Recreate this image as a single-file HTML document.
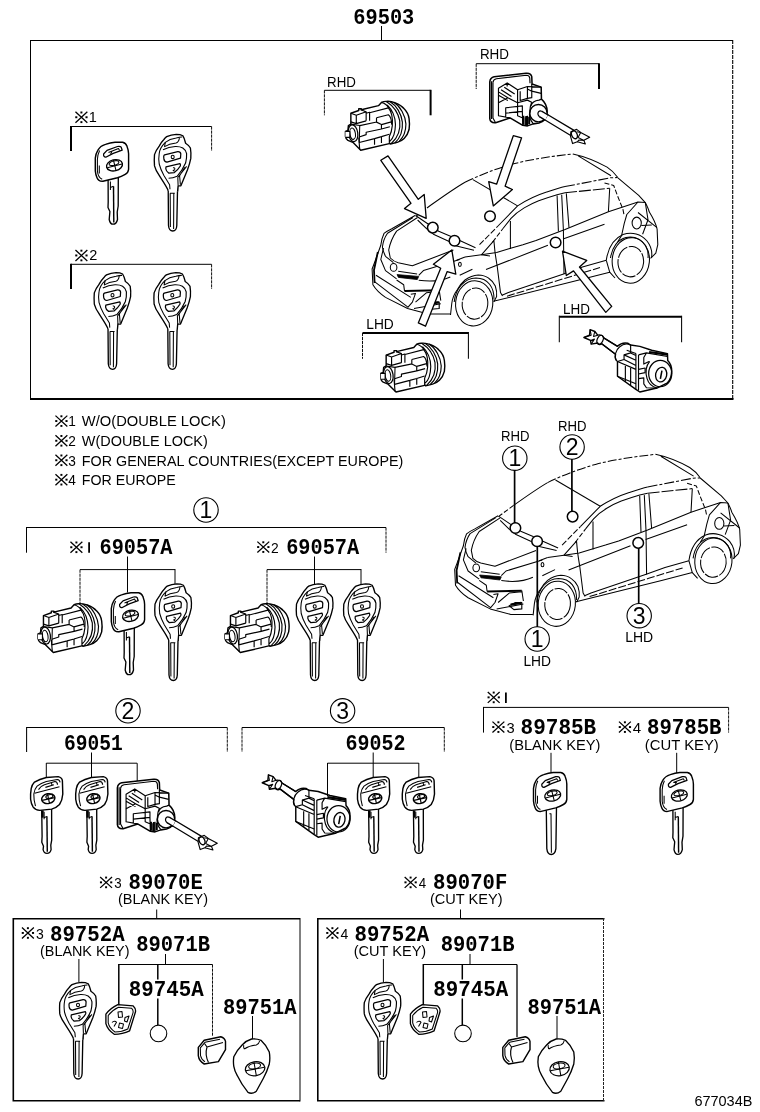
<!DOCTYPE html>
<html><head><meta charset="utf-8"><title>69503</title>
<style>
html,body{margin:0;padding:0;background:#fff}
svg{display:block}
svg path,svg ellipse,svg circle{vector-effect:non-scaling-stroke}
svg{fill:none;stroke:#000;stroke-width:1.05;stroke-linecap:butt;stroke-linejoin:round}
.w{fill:#fff}
.t{stroke-width:.95;stroke-dasharray:3.2 .8}
.f{stroke-width:1.05}
.k{fill:#000;stroke:none}
text{font-family:"Liberation Sans",sans-serif;fill:#000;stroke:none}
svg{will-change:transform;opacity:.9999}
.pn{font-family:"Liberation Mono",monospace;font-weight:bold}
</style></head><body>
<svg width="760" height="1112" viewBox="0 0 760 1112">
<defs>

<symbol id="ref" viewBox="0 0 12 12" overflow="visible" preserveAspectRatio="none">
<path d="M.6 .6L11.4 11.4M11.4 .6L.6 11.4" stroke-width="1.3"/>
<rect x="5.1" y=".3" width="1.8" height="1.9" class="k"/><rect x="5.1" y="9.8" width="1.8" height="1.9" class="k"/>
<rect x=".4" y="5" width="1.9" height="1.9" class="k"/><rect x="9.7" y="5" width="1.9" height="1.9" class="k"/>
</symbol>
<g id="keyA">
<path class="w" d="M13.1 37.5L13.2 60L13 65.5L14.9 69.5L14.2 77.5C14.8 80.5 16.3 82.2 18 82.2C20 82.2 21.8 80.5 22.5 77.5L22.2 70L23.2 64L23.3 34.5Z" stroke-width="1.34"/>
<path d="M15.4 39.5V48M15.4 45.4L18.4 44.2" class="f"/>
<path d="M18.5 44.2L18.8 80.5" stroke-width="1.43"/>

<path class="w" d="M10.5 2.4C14 1.2 17 .6 20 .3L27.6 .3C30 .8 31.3 2.2 31.9 4.1C33 7 33.6 9.5 33.6 11.8L33.6 27.2C33.4 29.7 32.2 31.3 30.2 32.3C27.5 33.8 25 34.9 22.5 35.7L7.9 39.2C5 39.4 3 38.2 2 35.7C1 33.5 .5 31 .3 28.9L.3 16.1C.6 13 1.5 10.5 2.8 8.4C4.5 5.3 7 3.4 10.5 2.4Z" stroke-width="1.43"/>
<path d="M4.6 8.6C3.2 11.5 2.5 14.5 2.4 17.5L2.4 29C2.8 33 4.2 36 7.2 37.3" class="f"/>
<path d="M4.3 23.5V31.5" class="f"/>
<path d="M8.6 12L12 8.4L22.5 4.5C24.5 4.2 25.6 4.4 26.2 5.2L27.2 8.2L18.2 11.4L10.8 15.2C9.3 15.3 8.4 14.2 8.6 12Z" stroke-width="1.24"/>
<path d="M13.5 10.4L23.5 6.6L24.6 8.4M15.6 12.2L16.8 9.6" class="f"/>
<g transform="translate(19.5 23.3) rotate(-14)">
<ellipse rx="8.1" ry="5.5" stroke-width="1.34"/>
<path d="M-7.6 .6H7.6M.2 -5.2V5.2" class="f"/>
<ellipse cx="0" cy="-2.2" rx="5" ry="2.2" class="f"/>
</g>
</g>
<g id="keyAb">
<path class="w" d="M13.1 37.5L13.6 76.5C14 80 16 82.3 18 82.3C20.3 82.3 22.2 80 22.7 76.5L23.3 34.5Z" stroke-width="1.34"/>
<path d="M16.2 41.5L17.8 41.5L18.2 80.5" class="f"/>

<path class="w" d="M10.5 2.4C14 1.2 17 .6 20 .3L27.6 .3C30 .8 31.3 2.2 31.9 4.1C33 7 33.6 9.5 33.6 11.8L33.6 27.2C33.4 29.7 32.2 31.3 30.2 32.3C27.5 33.8 25 34.9 22.5 35.7L7.9 39.2C5 39.4 3 38.2 2 35.7C1 33.5 .5 31 .3 28.9L.3 16.1C.6 13 1.5 10.5 2.8 8.4C4.5 5.3 7 3.4 10.5 2.4Z" stroke-width="1.43"/>
<path d="M4.6 8.6C3.2 11.5 2.5 14.5 2.4 17.5L2.4 29C2.8 33 4.2 36 7.2 37.3" class="f"/>
<path d="M4.3 23.5V31.5" class="f"/>
<path d="M8.6 12L12 8.4L22.5 4.5C24.5 4.2 25.6 4.4 26.2 5.2L27.2 8.2L18.2 11.4L10.8 15.2C9.3 15.3 8.4 14.2 8.6 12Z" stroke-width="1.24"/>
<path d="M13.5 10.4L23.5 6.6L24.6 8.4M15.6 12.2L16.8 9.6" class="f"/>
<g transform="translate(19.5 23.3) rotate(-14)">
<ellipse rx="8.1" ry="5.5" stroke-width="1.34"/>
<path d="M-7.6 .6H7.6M.2 -5.2V5.2" class="f"/>
<ellipse cx="0" cy="-2.2" rx="5" ry="2.2" class="f"/>
</g>
</g>
<g id="keyB">
<path class="w" d="M14.2 54L14.5 91.5C14.8 95 16.8 97 18.8 97C21 97 22.6 95 22.8 91.5L23.6 52Z" stroke-width="1.34"/>
<path d="M16 59.3H20.8M19.8 59.3L19.6 95M16.2 59.3L16.4 93" class="f"/>
<path class="w" d="M14.2 56.5C11.5 50.5 8 46 5.2 41.4C3 38.3 1.3 35 .5 31.9C.2 28 .2 24 .5 20.6C1.5 17.5 3.2 14.7 5.2 12.1C6.5 9.7 8 7.4 9.9 5.5C10.8 4.3 11.7 3.3 12.7 2.6C16 1 19 .4 22.2 .3C25 .3 27.3 .8 28.8 1.7C30.3 4 31 7 31.6 9.2C33.5 10.4 35.4 12 36.4 14C37 17.5 37.1 21 36.8 24.4C36 28.5 34.8 32.3 33.5 35.7L26.9 51.8L24.1 51.8L23.6 57.5" stroke-width="1.34"/>
<path d="M11.3 8.3C14.5 5.8 18 4.6 22.2 4C24.5 3.4 26.5 3 28.2 3.1M11.3 8.3C8 11.5 5.6 15.5 5.2 19.6C4.6 23 4.7 26.5 5.2 30C6.2 34 8 38 9.9 41.4L15.6 50.8L16 55.3" class="f"/>
<path d="M11.5 8.2C11 9.6 10.6 11 10.6 12.6C14 10.5 18 9.5 22 9C24.5 8 25.3 5.5 25.4 3.4" class="f"/>
<path d="M9 15.8C13 13.8 17 12.8 21.2 12.5C24 12.4 26.8 12.8 28.8 14C31 15.5 32.3 17.4 32.6 19.6C32.8 23 32.4 26.2 31.6 29.1C29.5 34 26.5 38.5 23.1 42.3C20.5 43.5 17.5 44.2 14.6 44.2" stroke-width="1.15"/>
<path d="M10.6 20.8L23.8 17.6C25.6 17.5 26.6 18.3 26.8 19.8L26.5 24.2L13 28.2C11.2 28 10.2 26.8 9.9 25.2L9.7 22.6C9.8 21.7 10.1 21.1 10.6 20.8Z" stroke-width="1.24"/>
<ellipse cx="18.7" cy="22.9" rx="1.5" ry="1.7" class="f"/>
<path d="M12 32.8L26 29.6C26.6 30.4 26.6 31.2 26.3 32C24.8 34.5 22.7 36.8 20.3 38.6L14.8 39.1C13 38 12 36.6 11.8 34.8Z" stroke-width="1.24"/>
<path d="M19 33.8C20.3 33.4 21 34.2 20.8 35.2C20.5 36.2 19.6 36.6 18.8 36.2M19.6 36.3L20.2 37.5" class="f"/>
<path d="M32.6 32.4L23.8 43.5L24.1 51.6M30.8 33.2L25.6 41.8L26.4 50.8" class="f"/>
</g>
<g id="cyl" transform="scale(0.09868)">
<path class="w" d="M110 185L190 157L190 140L215 140L215 150L390 108L420 75C440 66 455 64 470 65C500 62 530 68 560 80C600 95 630 115 650 140C680 170 695 205 700 240C706 280 706 315 700 350C690 390 672 420 650 440C630 460 605 472 580 480L510 497L510 490L210 560L130 480L80 460C65 450 57 437 55 420L55 370L80 360L85 310L110 295Z" stroke-width="1.43"/>
<path d="M110 185L165 205L265 170L210 150M165 205L165 290M110 272L165 290L265 262M265 170L265 262M265 185L300 175L300 262M300 180L490 130" stroke-width="1.15"/>
<path d="M470 65C540 110 590 180 605 260C615 340 600 420 520 492M505 66C572 106 622 190 632 275C638 360 618 430 555 486M545 74C612 116 662 205 668 295C668 370 648 425 600 470M420 75C460 85 480 105 490 130C525 170 535 250 530 310C525 370 510 400 500 420L500 492M478 100C530 150 560 220 562 300C560 380 540 440 505 470" stroke-width="1.15"/>
<path d="M370 230L490 200C512 215 522 250 524 300M370 230L370 275L420 300L420 345L265 378L265 402L195 425M200 310L372 274M420 300L520 272M420 345L505 322" stroke-width="1.15"/>
<path d="M195 482L350 442L350 505M350 442L420 422L420 486M420 422L500 397M190 430L200 555" stroke-width="1.15"/>
<ellipse cx="132" cy="388" rx="48" ry="86" stroke-width="1.24" transform="rotate(-8 132 388)"/>
<ellipse cx="128" cy="392" rx="28" ry="58" stroke-width="1.06" transform="rotate(-8 128 392)"/>
<path d="M55 370H100V430H55" stroke-width="1.15" class="w"/>
<path d="M110 295L200 310L195 482" stroke-width="1.06"/>
</g>
<g id="lockR" transform="scale(0.14474)">
<path class="w" d="M396 296L624 430L604 470L380 336Z" stroke="none"/>
<path d="M398 297L622 431M382 335L602 468" stroke-width="1.24"/>
<path class="w" d="M600 440L640 424L668 445L730 478L690 500L700 525L645 510L612 522L598 472Z" stroke-width="1.15"/>
<ellipse cx="625" cy="462" rx="19" ry="28" stroke-width="1.34" transform="rotate(-25 625 462)"/>
<path d="M640 440L668 445L650 480L690 500L655 498L645 510" stroke-width="1.06"/>
<path class="w" d="M40 95C42 75 52 64 70 60L290 36C312 34 326 42 330 60L332 110L395 132L397 215C420 235 436 262 436 300C436 340 415 372 380 380L340 386L300 400L268 396L180 345L80 378C55 380 42 368 40 350Z" stroke-width="1.53"/>
<path d="M62 98C64 84 72 76 86 74L292 50C306 50 314 56 316 68L318 105M62 98L62 345L80 378M52 92L52 352" stroke-width="1.15"/>
<path d="M100 140L160 103L232 150L232 240L165 205L100 240ZM160 103L160 128M118 150L190 197M140 133L212 180M100 188L165 225M100 165L165 205" stroke-width="1.15"/>
<path d="M232 150L300 128L395 132M250 160L250 225L300 210L300 145M300 145L330 160L330 205L300 210M330 110L330 160M232 240L300 222L332 238M300 128L300 145M330 160L395 175" stroke-width="1.15"/>
<path d="M150 275L265 262L265 300L150 312ZM100 240L100 330L180 345M150 312L150 338M232 240L232 262M265 300L268 396M300 330L300 400M285 340L285 395M232 262L232 330L268 345" stroke-width="1.15"/>
<path d="M272 330L272 392M292 332L292 398M312 336L312 388" stroke-width="2"/>
<circle cx="376" cy="312" r="60" stroke-width="1.43" class="w"/>
<path d="M325 262C330 240 350 225 380 222L397 215M318 300C310 320 312 350 340 384M332 238C322 250 318 275 318 300" stroke-width="1.15"/>
<ellipse cx="390" cy="318" rx="17" ry="21" stroke-width="1.24" class="w" transform="rotate(-20 390 318)"/>
<path class="w" d="M398 299L440 324L424 360L384 336Z" stroke="none"/>
<path d="M398 298L445 326M383 336L425 362" stroke-width="1.24"/>
</g>
<g id="lockL" transform="scale(0.13158)">
<path class="w" d="M45 118L88 100L92 58L128 72L150 100C170 95 190 102 195 120L300 185C320 165 350 155 380 162L400 175L470 185L560 215L680 240L682 292C700 310 712 340 712 370C712 410 700 440 680 462L600 502L470 532L440 512L300 412L300 300C285 290 280 270 285 245L180 165C170 175 155 175 150 160L100 168L95 140Z" stroke-width="1.43"/>
<ellipse cx="168" cy="135" rx="22" ry="36" stroke-width="1.24" transform="rotate(25 168 135)"/>
<path d="M92 58L100 100L45 118M128 72L118 110L150 100M95 140L125 130L100 168" stroke-width="1.06"/>
<path d="M195 120L300 185M180 165L285 245" stroke-width="1.24"/>
<path d="M290 290C275 260 285 215 315 190C340 168 370 160 400 175M300 300L350 285L350 250L400 235L400 175" stroke-width="1.15"/>
<path d="M440 240L440 512M460 250L460 520M350 285L440 330M350 250L440 290M400 235L440 255M370 215L440 240M300 300L440 360" stroke-width="1.15"/>
<path d="M360 335L360 455M400 350L400 480M300 412L440 470" stroke-width="1.15"/>
<path d="M460 250L520 235L680 262M520 235L500 270L500 320L540 300M460 360L510 350L510 385L460 395M460 430L500 425L500 470L520 500L600 502" stroke-width="1.15"/>
<path d="M540 228L680 248" stroke-width="2.2"/>
<ellipse cx="625" cy="392" rx="88" ry="100" stroke-width="1.24"/>
<path d="M545 300C520 330 510 380 525 430C535 465 560 490 600 502" stroke-width="1.15"/>
<ellipse cx="632" cy="400" rx="42" ry="56" stroke-width="1.34" transform="rotate(12 632 400)"/>
<path d="M638 370L626 432" stroke-width="1.53"/>
</g>
<g id="car">
<!-- roof -->
<path d="M415.7 216.3L431 205" stroke-dasharray="5 2"/><path d="M431 205C445 195 455 188 465 182.2"/>
<path d="M465 182.2C480 175 495 169 513.7 163.8C530 159.5 550 156.5 572.9 153.9" stroke-dasharray="9 2 3 2"/>
<path d="M572.9 153.9C585 156.5 597 161.5 607.1 167.1C611.5 170 615 173.5 617.6 177.3M578.2 155.9L611 175.7"/>
<path d="M472.9 179.6L517.6 205.9"/>
<path d="M479.5 244.7L498 226" stroke-dasharray="6 2"/>
<path d="M498 226L517.6 205.9C526 200.5 536 195.5 546.6 192.1C553 190 559 188 565 186.6"/>
<path d="M565 186.6L610.4 177.8L617.6 177.5" stroke-dasharray="10 2 3 2"/>
<path d="M492.6 242.1L503 228.5" stroke-dasharray="5 2"/>
<path d="M503 228.5L511 218.4C515 214 519 211 524.2 207.9C529 205 534 202.5 538.7 200.7C545 198.5 551 196.5 557.1 194.7L565 192.8"/>
<path d="M565 192.8L609.7 188.2" stroke-dasharray="12 2"/>
<!-- windows / pillars -->
<path d="M510.4 221L510.4 249M557.1 195.4L558.4 231.6M561.7 194.7L563.4 230.3L564 274M566.3 193.4L569 227.6M609.7 188.2L608.4 211.8"/>
<!-- belt line -->
<path d="M465 257L481.4 254.8L496.6 252.5L509.7 248.6L522.9 244.7L536 240.5L565 229.6L608.4 211.8L638 202L645.3 202.6"/>
<path d="M486 269.6L547.9 245.3M563 239L604.5 224.3"/>
<path d="M493.9 240.7L481.4 254.8L490 256M493.9 240.7L495 252C495.8 258 496.5 262 497.2 266.3L500.5 292.6L502.5 296"/>
<!-- sill -->
<path d="M502 295.3L508.4 292.6L563.6 273.9L582.4 267.1L606.3 260.3M493.4 301.3L579 280L609.7 272.2L615 278"/>
<path d="M507 296.2L565.3 278.2L600 267.5" stroke-dasharray="8 2"/>
<path d="M606.3 260.3L609.7 272.2"/>
<!-- hood / cowl -->
<path d="M415.5 215.3L391.8 228.7C388.5 230.3 386 231.8 384 233.4C382.2 237 381.3 241 380.8 245.3L374.5 262.7L372.1 269L372.9 284.8C376 290 380.5 294 385.5 297.4L407.6 308.5L428.2 314L450.3 314"/>
<path d="M413 217.5L387.5 233.2C384.5 237.5 383 242 382.4 247C382.8 250.5 384 253.5 385.5 256.3L393.4 262.7"/>
<path d="M417.5 217.5L396.6 231.1C392.5 237 390 243 388.7 250L390.3 258C392.5 260.3 395 261.8 398.2 262.7L412.4 265.8L453.4 250"/>
<path d="M383.5 248L380.8 259.5L385.5 270.6L396.6 278.8"/>
<path d="M377.8 252L375.5 263L374 270L374.6 283" stroke-width="1.8"/>
<path d="M416.3 216L427 223.2L438.7 231.2L450.5 236.2L459.7 240.6L475.5 247.7M417.6 220L426.8 228.9L433.4 234.2L449.2 241.4L453.4 245.3L474 250.2"/>
<ellipse cx="393.6" cy="267.4" rx="3.3" ry="3.9"/>
<path d="M398.2 271.3L417.1 273.9M418.7 275.3L423.4 270.6L459.7 259.5"/>
<path d="M397 274.6L418.7 276.4L417.3 279.6L398.4 277.4Z" fill="#000" stroke-width=".8"/>
<path d="M418.7 280.2C430 281.8 442 280.8 450.3 276.9"/>
<path d="M404.5 291.1L439.2 290.3" stroke-width="2"/>
<path d="M439.2 290.3L440.8 300.6M396.6 280L403.7 284.8L404.5 291.1M410.8 294.2L415.5 293.4L412.4 302.1L407.6 307.7M376 275.3L410.8 297.4M374.5 281.6L407.6 306.9M415.5 302.1L426.6 292.7L439 291.3M414 308.5L440.8 303.7"/>
<path d="M426.6 305.3L432.9 302.1L439.2 302.1L439.2 308.5L431.3 309.2Z" stroke-width="1.14"/>
<path d="M428 304.2L438.8 302.4" stroke-width="2.2"/>
<path d="M456.6 260.3L465 257"/>
<ellipse cx="459.9" cy="264.3" rx="1.4" ry="2.1"/>
<path d="M459.7 275.3L472.4 269.2"/>
<!-- front wheel -->
<path d="M450.5 315L451.8 303.2C452.5 298 454.5 293.5 457.1 290C459.5 285.5 462 282.5 465 280C469 277 473.5 275.2 478.2 274.9C482.5 275 486 276.2 488.7 278.2C491.8 280.3 494 283 495.3 286C496.5 289.5 497 293 496.6 296.6L494 301.8"/>
<path d="M454.2 302C455.5 288.5 464 278.4 476 278C488 278 494.3 287.5 494 299.5"/>
<ellipse cx="474.2" cy="303.4" rx="18.6" ry="22.6" transform="rotate(6 474.2 303.4)"/>
<ellipse cx="475" cy="303.6" rx="12.8" ry="15.6" transform="rotate(6 475 303.6)" stroke-dasharray="14 1.5"/>
<!-- rear -->
<path d="M617.6 177.6L638.7 195.4L645.3 202.6C647 206 648.5 209 649.2 211.8C653 218 656 224 657.1 229L657.8 244.7L655.8 253.2L650.5 258.4"/>
<path d="M604.5 182.9L613.7 185.5L617.6 196L622.9 209.2L624.2 215.8" stroke-dasharray="5 2"/>
<path d="M638 202L626.8 214.5L624.2 223.7L621.6 235.5L617.6 242.1M638 212.5L657 227.6M645.3 202.6L648 219.7L642.6 234.2"/>
<ellipse cx="636.7" cy="223" rx="4.6" ry="5.9"/>
<path d="M641.3 225.6L651.8 225"/>
<!-- rear wheel -->
<path d="M606.3 260.3C608 248 614 238.5 623 234.5C632 231.5 641 234 647 241C651 246 652.5 252 651.5 258"/>
<path d="M610.5 258C612 247 618 239.5 626 237.5C634 236 641 239 645.5 245.5C648 250 648.5 254 648 258"/>
<ellipse cx="630.8" cy="260.4" rx="18.6" ry="22.8" transform="rotate(6 630.8 260.4)"/>
<ellipse cx="630.8" cy="261.7" rx="12.8" ry="15.2" transform="rotate(6 630.8 261.7)" stroke-dasharray="14 1.5"/>
</g>
<g id="arrows" stroke-width="1.3">
<path class="w" d="M380.8 160.3L388 155.9L418.3 199.3L424.2 194.5L426.2 218.4L404.5 208.6L411 203.3Z"/>
<path class="w" d="M513.3 135.7L496.6 184.2L488.7 181.6L493.3 205.9L512.4 189.5L505.1 186.2L521.6 137.8Z"/>
<path class="w" d="M451.8 249.9L433.4 264.3L440.7 268.3L418.3 322.9L425.5 326.2L447.2 271.6L455.8 274.2Z"/>
<path class="w" d="M562.5 251.2L586.7 260.4L579.5 267L611.7 306.4L605.8 312.4L573.5 270.9L566.3 275.5Z"/>
</g>
<g id="pad">
<path class="w" d="M105.9 1014.2C109 1010 113 1007 117.8 1004.7L133.2 1005.9C135 1007.5 135.8 1009.5 135.5 1011.8L129.6 1030.8C125 1033 120 1034.2 114.2 1034.3C110 1031.5 107 1028 105.9 1023.7Z" stroke-width="1.34"/>
<path d="M108.2 1015.5C111 1011.8 114.5 1009 118.5 1007.2L131.5 1008.2C133 1009.5 133.4 1011 133 1012.8L127.8 1029C124 1031 119.5 1032 115 1032C111.5 1029.5 109 1026.5 108.2 1022.8Z" class="f"/>
<path d="M118 1012L122 1011.5L122.5 1017L118.5 1017.5ZM125 1017.5L129 1016L127 1022L124.5 1021ZM112 1022.5C113.5 1021 115.5 1020.8 116.5 1022.2L114 1026.5M119.5 1023L123.5 1024L122.5 1028.5L118.5 1027.5Z" class="f"/>
</g>
<g id="cover">
<path class="w" d="M198.3 1047.4L204.2 1040.3L220.8 1036.7C223.5 1037.5 225 1039 225.5 1041.4L225.5 1049.7L218.4 1061.6L204.2 1064C200.5 1062 198.8 1059.5 198.3 1055.7Z" stroke-width="1.43"/>
<path d="M200.3 1047.8L205 1042.3L220 1039.2M200.3 1047.8L200.5 1055.5C201.2 1058.5 202.6 1060.5 205 1061.8" class="f"/>
<path d="M204.5 1043.5L207 1047L223 1042.5M207 1047C205.5 1052 205.8 1057 208.5 1062.5" stroke-width="1.15"/>
</g>
<g id="back">
<path class="w" d="M233.8 1056.8C236 1052 238.8 1048.3 242.1 1045C245 1042 248 1040 251.6 1039C255 1038.6 258 1039 261 1040.3C264.5 1043.5 267.3 1047.5 269.3 1052.1C270 1056 270 1060 269.3 1064C267.8 1069 265.8 1073.8 263.4 1078.2L256.3 1091.2C253.5 1093.5 250.5 1093.8 248 1092.4C244 1087.5 240.3 1082 237.4 1075.8C235.5 1072.5 234.3 1069.4 233.8 1066.3C233.3 1063 233.3 1060 233.8 1056.8Z" stroke-width="1.34"/>
<path d="M244.3 1049C247.5 1046.8 251.5 1045.5 256.3 1045C258 1044.4 259.2 1043 259.6 1041M244.3 1049C243.6 1047.6 243.4 1046.4 243.8 1045.2" class="f"/>
<g transform="translate(255.1 1068.7) rotate(-10)"><ellipse rx="9.8" ry="7" stroke-width="1.24"/><path d="M-9.5 .3H9.5M0 -6.8V6.8" class="f"/><ellipse cx="0" cy="-2.8" rx="6" ry="2.8" class="f"/></g>
</g>
<g id="keyC">
<path class="w" d="M11.8 32L12.2 60L11.9 66L13.6 70L13.2 73.5C13.8 76 15.3 77.2 17 77.2C19 77.2 20.6 76 21.2 73.5L20.9 69L21.8 64L21.7 30Z" stroke-width="1.34"/>
<path d="M14.2 35.5V43M14.2 41.5L16.9 40.2" class="f"/>
<path d="M17 40L17.4 75.5" stroke-width="1.43"/>
<path d="M12.6 34.2V41.5" stroke-width="2.4"/>
<path class="w" d="M4.6 5.9C8 3.8 12 2.3 16.4 1.3L28.3 .4C31 1 32.3 2.5 32.5 4.6L32.9 17.8C32.6 22 31.5 25.5 29.6 28.3C27.5 30.6 25 32 21.7 32.9L9.9 34.2C7 34 4.8 32.9 3.3 30.9C1.8 28.5 1 26 .7 23C.5 19.5 .7 16 1.3 12.5C1.9 9.6 3 7.5 4.6 5.9Z" stroke-width="1.43"/>
<path d="M5.6 30C4.4 26 3.8 22 3.9 17.8C4.3 14.5 5.4 11.9 7.2 9.9C9.8 7.8 12.9 6.3 16.4 5.3L27.4 3.3C29.3 3.5 30 4.6 30.2 6.2" class="f"/>
<path d="M8.6 13.4C10 11 12 9.5 14.5 8.6L25 5.3C26.8 5.5 27.6 6.7 27.6 8.6M4.6 17.1L29.6 10.5M15.5 11.2L24 8.5M21.5 7L22.3 9.2" stroke-width="1.15"/>
<g transform="translate(18.4 22.4) rotate(-12)"><ellipse rx="6.7" ry="4.9" stroke-width="1.43"/><path d="M-6.4 .4H6.4M.2 -4.6V4.6" stroke-width="1.15"/><ellipse cx="1.5" cy="-1.8" rx="3.6" ry="1.8" class="f"/></g>
</g>

</defs>
<text class="pn" x="353.3" y="23.6" font-size="22" textLength="61" lengthAdjust="spacingAndGlyphs">69503</text>
<path d="M381.5 26L381.5 40" stroke-width="1.0"/>
<path d="M30 40.5H733M30.5 40V400" stroke-width="1"/>
<path d="M30 399H733.5" stroke-width="2"/>
<path d="M732.7 40V400" stroke-width="1.1" stroke-dasharray="4 1"/>
<use href="#ref" x="74.8" y="111.2" width="13.2" height="12.2"/>
<text x="88.8" y="122" font-size="14.5">1</text>
<path d="M71 126.5H211.6" stroke-width="1.0"/>
<path d="M71 126.0V151" stroke-width="2"/>
<path d="M211.6 126.5L211.6 151" class="t"/>
<use href="#keyA" x="95" y="142"/>
<use href="#keyB" x="154" y="134"/>
<use href="#ref" x="74.8" y="249.4" width="13.2" height="12.2"/>
<text x="89.3" y="260.3" font-size="14.5">2</text>
<path d="M71 264.3H211.6" stroke-width="1.0"/>
<path d="M71 263.8V289" stroke-width="2"/>
<path d="M211.6 264.3L211.6 289" class="t"/>
<use href="#keyB" x="93.8" y="272.3"/>
<use href="#keyB" x="153.6" y="272.3"/>
<text x="327.1" y="86.9" font-size="14.5" textLength="28.8" lengthAdjust="spacingAndGlyphs">RHD</text>
<path d="M324.4 90.3H430.6" stroke-width="1.0"/>
<path d="M324.4 90.3L324.4 115.3" class="t"/>
<path d="M430.6 89.8V115.3" stroke-width="2"/>
<text x="479.9" y="59.1" font-size="14.5" textLength="29.1" lengthAdjust="spacingAndGlyphs">RHD</text>
<path d="M476.2 63.7H599" stroke-width="1.0"/>
<path d="M476.2 63.7L476.2 89" class="t"/>
<path d="M599 63.2V89" stroke-width="2"/>
<text x="366.3" y="329.3" font-size="14.5" textLength="27.5" lengthAdjust="spacingAndGlyphs">LHD</text>
<path d="M362.5 333H468.4" stroke-width="2"/>
<path d="M362.5 333L362.5 358.8" class="t"/>
<path d="M468.4 332.0V358.8" stroke-width="1.05"/>
<text x="563.1" y="313.5" font-size="14.5" textLength="26.9" lengthAdjust="spacingAndGlyphs">LHD</text>
<path d="M559.3 316.7H681.6" stroke-width="2"/>
<path d="M559.3 315.7V342.3" stroke-width="1.05"/>
<path d="M681.6 315.7V342.3" stroke-width="1.05"/>
<use href="#cyl" x="340" y="95"/>
<use href="#lockR" x="484" y="68"/>
<use href="#cyl" x="375.3" y="336.8"/>
<use href="#lockL" x="578" y="322"/>
<use href="#car"/>
<use href="#arrows"/>
<circle class="w" cx="432.8" cy="227.6" r="5.3" stroke-width="1.5"/>
<circle class="w" cx="454.5" cy="240.8" r="5.3" stroke-width="1.5"/>
<circle class="w" cx="490" cy="216.2" r="5.3" stroke-width="1.5"/>
<circle class="w" cx="555.6" cy="242.5" r="5.3" stroke-width="1.5"/>
<use href="#car" x="82.6" y="300.4"/>
<circle class="w" cx="515.4" cy="528.0" r="5.3" stroke-width="1.5"/>
<circle class="w" cx="537.1" cy="541.2" r="5.3" stroke-width="1.5"/>
<circle class="w" cx="572.6" cy="516.5999999999999" r="5.3" stroke-width="1.5"/>
<circle class="w" cx="638.2" cy="542.9" r="5.3" stroke-width="1.5"/>
<text x="500.9" y="441.3" font-size="14.5" textLength="28.5" lengthAdjust="spacingAndGlyphs">RHD</text>
<circle cx="514.8" cy="458.2" r="12.2" stroke-width="1.1"/>
<text x="514.8" y="466.365" font-size="23" text-anchor="middle">1</text>
<path d="M514.6 470L514.6 523" stroke-width="1.7"/>
<text x="558.1" y="430.7" font-size="14.5" textLength="28.5" lengthAdjust="spacingAndGlyphs">RHD</text>
<circle cx="572.1" cy="447" r="12.2" stroke-width="1.1"/>
<text x="572.1" y="455.165" font-size="23" text-anchor="middle">2</text>
<path d="M571.9 459L571.9 511.5" stroke-width="1.7"/>
<path d="M537.3 546L537.3 627" stroke-width="1.7"/>
<circle cx="537.2" cy="639" r="12.2" stroke-width="1.1"/>
<text x="537.2" y="647.165" font-size="23" text-anchor="middle">1</text>
<text x="523.4" y="665.9" font-size="14.5" textLength="27.6" lengthAdjust="spacingAndGlyphs">LHD</text>
<path d="M638.7 548L638.7 603.6" stroke-width="1.7"/>
<circle cx="639.2" cy="615.7" r="12.2" stroke-width="1.1"/>
<text x="639.2" y="623.865" font-size="23" text-anchor="middle">3</text>
<text x="625.2" y="642.2" font-size="14.5" textLength="28.0" lengthAdjust="spacingAndGlyphs">LHD</text>
<use href="#ref" x="54.8" y="415" width="13.2" height="12.2"/>
<text x="68.3" y="426.4" font-size="15" textLength="7.6" lengthAdjust="spacingAndGlyphs">1</text>
<text x="81.8" y="426.4" font-size="15" textLength="144" lengthAdjust="spacingAndGlyphs">W/O(DOUBLE LOCK)</text>
<use href="#ref" x="54.8" y="434.7" width="13.2" height="12.2"/>
<text x="68.3" y="446.09999999999997" font-size="15" textLength="7.6" lengthAdjust="spacingAndGlyphs">2</text>
<text x="81.8" y="446.09999999999997" font-size="15" textLength="126" lengthAdjust="spacingAndGlyphs">W(DOUBLE LOCK)</text>
<use href="#ref" x="54.8" y="454.2" width="13.2" height="12.2"/>
<text x="68.3" y="465.59999999999997" font-size="15" textLength="7.6" lengthAdjust="spacingAndGlyphs">3</text>
<text x="81.8" y="465.59999999999997" font-size="15" textLength="321.5" lengthAdjust="spacingAndGlyphs">FOR GENERAL COUNTRIES(EXCEPT EUROPE)</text>
<use href="#ref" x="54.8" y="473.6" width="13.2" height="12.2"/>
<text x="68.3" y="485.0" font-size="15" textLength="7.6" lengthAdjust="spacingAndGlyphs">4</text>
<text x="81.8" y="485.0" font-size="15" textLength="94" lengthAdjust="spacingAndGlyphs">FOR EUROPE</text>
<circle cx="206" cy="510" r="12.2" stroke-width="1.1"/>
<text x="206" y="518.165" font-size="23" text-anchor="middle">1</text>
<path d="M26.5 527.5H386" stroke-width="1.0"/>
<path d="M26.5 527.0V552.7" stroke-width="1.05"/>
<path d="M386 527.5L386 552.7" class="t"/>
<use href="#ref" x="69.8" y="541.2" width="13.2" height="12.2"/>
<path d="M89.1 542.2L89.1 552.8" stroke-width="1.8"/>
<text class="pn" x="99.5" y="553.8" font-size="22" textLength="73" lengthAdjust="spacingAndGlyphs">69057A</text>
<use href="#ref" x="256.7" y="541" width="13.2" height="12.2"/>
<text x="271" y="552.6" font-size="14.5" textLength="7.7" lengthAdjust="spacingAndGlyphs">2</text>
<text class="pn" x="286.2" y="553.8" font-size="22" textLength="73" lengthAdjust="spacingAndGlyphs">69057A</text>
<path d="M127.5 556.5L127.5 592.5" stroke-width="1.0"/>
<path d="M80 569.6H175" stroke-width="1"/>
<path d="M80 569.6L80 605" class="t"/>
<path d="M175 569L175 584" stroke-width="1.0"/>
<path d="M314.5 556.5L314.5 584" stroke-width="1.0"/>
<path d="M267 569.6H361" stroke-width="1"/>
<path d="M267 569.6L267 605" class="t"/>
<path d="M361 569L361 584" stroke-width="1.0"/>
<use href="#keyA" x="111" y="592.5"/>
<use href="#keyB" x="154.5" y="583.5"/>
<use href="#keyB" x="296" y="583.5"/>
<use href="#keyB" x="343.3" y="583.5"/>
<use href="#cyl" x="32.6" y="597.3"/>
<use href="#cyl" x="219.6" y="597.3"/>
<use href="#lockR" x="111.6" y="774"/>
<use href="#lockL" x="256.3" y="767.2"/>
<circle cx="128" cy="710.8" r="12.2" stroke-width="1.1"/>
<text x="128" y="718.9649999999999" font-size="23" text-anchor="middle">2</text>
<path d="M26.6 727.5H227.3" stroke-width="1.0"/>
<path d="M26.6 727.0V752" stroke-width="1.05"/>
<path d="M227.3 727.5L227.3 752" class="t"/>
<text class="pn" x="64" y="749.8" font-size="22" textLength="58.7" lengthAdjust="spacingAndGlyphs">69051</text>
<path d="M91.5 752.5L91.5 777.2" stroke-width="1.0"/>
<path d="M46.3 763.2H137.1" stroke-width="1"/>
<path d="M46.3 763L46.3 777.3" stroke-width="1.0"/>
<path d="M137.2 763.2L137.2 781" stroke-width="1.0"/>
<use href="#keyC" x="29.9" y="776.2"/>
<use href="#keyC" x="75" y="776.2"/>
<circle cx="342.6" cy="710.8" r="12.2" stroke-width="1.1"/>
<text x="342.6" y="718.9649999999999" font-size="23" text-anchor="middle">3</text>
<path d="M242 727.5H444.3" stroke-width="1.0"/>
<path d="M242 727.5L242 752" class="t"/>
<path d="M444.3 727.5L444.3 752" class="t"/>
<text class="pn" x="345.6" y="749.8" font-size="22" textLength="60" lengthAdjust="spacingAndGlyphs">69052</text>
<path d="M373.2 752.5L373.2 777.3" stroke-width="1.0"/>
<path d="M327.5 763.2H418.8" stroke-width="1"/>
<path d="M327.5 763L327.5 796" stroke-width="1.0"/>
<path d="M418.8 763L418.8 777.3" stroke-width="1.0"/>
<use href="#keyC" x="356.8" y="776.2"/>
<use href="#keyC" x="401.6" y="776.2"/>
<use href="#ref" x="487.1" y="691.3" width="13.2" height="12.2"/>
<path d="M505.9 692.4L505.9 703" stroke-width="1.8"/>
<path d="M483.5 707.4H728.6" stroke-width="1.0"/>
<path d="M483.5 706.9V732.6" stroke-width="1.05"/>
<path d="M728.6 707.4L728.6 732.6" class="t"/>
<use href="#ref" x="491.8" y="721" width="13.2" height="12.2"/>
<text x="506.6" y="732.5" font-size="15.3" textLength="8.2" lengthAdjust="spacingAndGlyphs">3</text>
<text class="pn" x="520.6" y="734" font-size="22" textLength="75.6" lengthAdjust="spacingAndGlyphs">89785B</text>
<text x="509.3" y="749.6" font-size="14" textLength="91.2" lengthAdjust="spacingAndGlyphs">(BLANK KEY)</text>
<use href="#ref" x="618.3" y="721" width="13.2" height="12.2"/>
<text x="632.8" y="732.5" font-size="15.3" textLength="8.4" lengthAdjust="spacingAndGlyphs">4</text>
<text class="pn" x="647" y="734" font-size="22" textLength="74.5" lengthAdjust="spacingAndGlyphs">89785B</text>
<text x="644.8" y="749.6" font-size="14" textLength="74" lengthAdjust="spacingAndGlyphs">(CUT KEY)</text>
<path d="M551 752.8L551 774" stroke-width="1.0"/>
<path d="M676.7 752.8L676.7 774" stroke-width="1.0"/>
<use href="#keyAb" x="533.2" y="772.2"/>
<use href="#keyA" x="659.8" y="772.2"/>
<g transform="translate(0 0)">
<use href="#ref" x="99.5" y="876.3" width="13.2" height="12.2"/>
<text x="114.3" y="887.8" font-size="14.5" textLength="7.4" lengthAdjust="spacingAndGlyphs">3</text>
<text class="pn" x="128.5" y="889" font-size="22" textLength="74.3" lengthAdjust="spacingAndGlyphs">89070E</text>
<text x="118" y="904.3" font-size="14" textLength="90" lengthAdjust="spacingAndGlyphs">(BLANK KEY)</text>
<path d="M156.7 909.5L156.7 918.7" stroke-width="1.0"/>
<path d="M13.3 918.8H300M13.3 1100.8H300M13.3 918V1101.5" stroke-width="1.6"/>
<path d="M300 918V1101.5" stroke-width="1"/>
<use href="#ref" x="21.3" y="926.9" width="13.2" height="12.2"/>
<text x="36" y="938.7" font-size="15" textLength="7.8" lengthAdjust="spacingAndGlyphs">3</text>
<text class="pn" x="50" y="940.5" font-size="22" textLength="74.6" lengthAdjust="spacingAndGlyphs">89752A</text>
<text x="40" y="955.6" font-size="14" textLength="89.5" lengthAdjust="spacingAndGlyphs">(BLANK KEY)</text>
<text class="pn" x="136.2" y="951.4" font-size="22" textLength="73.8" lengthAdjust="spacingAndGlyphs">89071B</text>
<path d="M78.9 959L78.9 982.5" stroke-width="1.0"/>
<use href="#keyB" x="59.3" y="982"/>
<path d="M165.5 954L165.5 964.5" stroke-width="1.0"/>
<path d="M118.7 964.5H212.5" stroke-width="1"/>
<path d="M118.8 964L118.8 1008" stroke-width="1.5"/>
<path d="M212.5 964.5L212.5 1036" class="t"/>
<path d="M157.8 964.5L157.8 979.5" stroke-width="1.5"/>
<path d="M157.8 998.5L157.8 1025" stroke-width="1.5"/>
<text class="pn" x="128.7" y="996" font-size="22" textLength="75" lengthAdjust="spacingAndGlyphs">89745A</text>
<circle cx="158.5" cy="1033.4" r="8.3"/>
<text class="pn" x="223" y="1013.8" font-size="22" textLength="73.5" lengthAdjust="spacingAndGlyphs">89751A</text>
<path d="M252.5 1016L252.5 1040" stroke-width="1.0"/>
<use href="#pad" x="0" y="0"/>
<use href="#cover" x="0" y="0"/>
<use href="#back" x="0" y="0"/>
</g>
<g transform="translate(304.5 0)">
<use href="#ref" x="99.5" y="876.3" width="13.2" height="12.2"/>
<text x="114.3" y="887.8" font-size="14.5" textLength="7.4" lengthAdjust="spacingAndGlyphs">4</text>
<text class="pn" x="128.5" y="889" font-size="22" textLength="74.3" lengthAdjust="spacingAndGlyphs">89070F</text>
<text x="125.5" y="904.3" font-size="14" textLength="72.5" lengthAdjust="spacingAndGlyphs">(CUT KEY)</text>
<path d="M156 909.5L156 918.7" stroke-width="1.0"/>
<path d="M13.3 918.8H300M13.3 1100.8H300M13.3 918V1101.5" stroke-width="1.6"/>
<path d="M299 918V1101.5" stroke-width="1" stroke="#222" stroke-dasharray="3 1"/>
<use href="#ref" x="21.3" y="926.9" width="13.2" height="12.2"/>
<text x="36" y="938.7" font-size="15" textLength="7.8" lengthAdjust="spacingAndGlyphs">4</text>
<text class="pn" x="50" y="940.5" font-size="22" textLength="74.6" lengthAdjust="spacingAndGlyphs">89752A</text>
<text x="49.2" y="955.6" font-size="14" textLength="72.5" lengthAdjust="spacingAndGlyphs">(CUT KEY)</text>
<text class="pn" x="136.2" y="951.4" font-size="22" textLength="73.8" lengthAdjust="spacingAndGlyphs">89071B</text>
<path d="M78.9 959L78.9 982.5" stroke-width="1.0"/>
<use href="#keyB" x="59.3" y="982"/>
<path d="M165.5 954L165.5 964.5" stroke-width="1.0"/>
<path d="M118.7 964.5H212.5" stroke-width="1"/>
<path d="M118.8 964L118.8 1008" stroke-width="1.5"/>
<path d="M212.5 964.5L212.5 1037" stroke-width="1.3"/>
<path d="M157.8 964.5L157.8 979.5" stroke-width="1.5"/>
<path d="M157.8 998.5L157.8 1025" stroke-width="1.5"/>
<text class="pn" x="128.7" y="996" font-size="22" textLength="75" lengthAdjust="spacingAndGlyphs">89745A</text>
<circle cx="158.5" cy="1033.4" r="8.3"/>
<text class="pn" x="223" y="1013.8" font-size="22" textLength="73.5" lengthAdjust="spacingAndGlyphs">89751A</text>
<path d="M252.5 1016L252.5 1040" stroke-width="1.0"/>
<use href="#pad" x="0" y="0"/>
<use href="#cover" x="0" y="0"/>
<use href="#back" x="0" y="0"/>
</g>
<text x="694.4" y="1106" font-size="15.2" textLength="58" lengthAdjust="spacingAndGlyphs">677034B</text>
</svg>
</body></html>
